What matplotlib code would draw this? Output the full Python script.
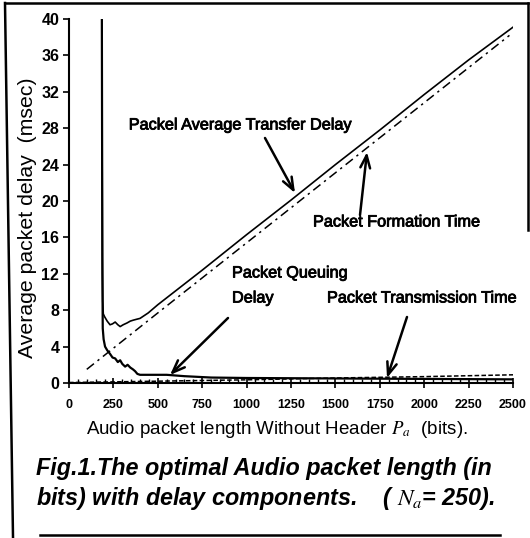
import matplotlib
matplotlib.use("Agg")
import matplotlib.pyplot as plt
from matplotlib.ticker import MultipleLocator
from matplotlib.lines import Line2D
import matplotlib.patheffects as pe

plt.rcParams['font.family'] = ['Liberation Sans', 'DejaVu Sans']
plt.rcParams['mathtext.fontset'] = 'stix'

# ---- data ----
P_total = [185, 186, 188, 190, 193, 200, 215, 231, 245, 260, 275, 288, 305, 327, 345,
           361, 380, 400, 446, 500, 750, 1000, 1250, 1500, 1750, 2000, 2250, 2500]
total_delay = [40, 30, 14, 9, 7.6, 7.3, 6.8, 6.4, 6.5, 6.7, 6.4, 6.2, 6.4, 6.6, 6.8,
               6.9, 7.0, 7.1, 7.7, 8.6, 12.4, 16.3, 20.1, 24.0, 27.8, 31.7, 35.5, 39.1]

P_queue = [185, 186, 188, 190, 195, 203, 215, 231, 245, 260, 275, 288, 300, 316, 330,
           345, 360, 372, 385, 400, 450, 550, 650, 800, 1000, 1500, 2000, 2500]
queue_delay = [40, 30, 12, 6, 4.8, 4.0, 3.6, 3.2, 2.8, 2.7, 2.3, 2.5, 2.1, 1.8, 2.0,
               1.7, 1.5, 1.3, 1.0, 0.9, 0.9, 0.9, 0.75, 0.6, 0.55, 0.5, 0.45, 0.4]

P_form = [100, 500, 1000, 1500, 2000, 2480]
formation_time = [1.5, 7.7, 15.4, 23.1, 30.8, 38.2]

P_trans = [0, 500, 1000, 1500, 2000, 2500]
transmission_time = [0.05, 0.2, 0.35, 0.55, 0.7, 0.9]

x_ticks = [0, 250, 500, 750, 1000, 1250, 1500, 1750, 2000, 2250, 2500]
y_ticks = [0, 4, 8, 12, 16, 20, 24, 28, 32, 36, 40]

W, H = 530, 538
fig = plt.figure(figsize=(W / 100, H / 100), dpi=100)
ax = fig.add_axes([69 / W, 1 - 383 / H, 444 / W, 364 / H])

ax.plot(P_total, total_delay, color='black', lw=1.2)
ax.plot(P_queue, queue_delay, color='black', lw=1.6)
ax.plot(P_form, formation_time, color='black', lw=1.1, dashes=(6, 3, 1.5, 3))
ax.plot(P_trans, transmission_time, color='black', lw=1.1, dashes=(3, 1.5))

ax.set_xlim(0, 2500)
ax.set_ylim(0, 40)
for s in ['top', 'right']:
    ax.spines[s].set_visible(False)
for s in ['left', 'bottom']:
    ax.spines[s].set_linewidth(1.5)

heavy = [pe.withStroke(linewidth=0.6, foreground='black')]

ax.set_xticks(x_ticks)
ax.set_xticklabels([str(v) for v in x_ticks], fontsize=9, fontweight='bold')
ax.xaxis.set_minor_locator(MultipleLocator(50))
ax.tick_params(axis='x', which='major', direction='inout', length=7, width=1.2, pad=8)
ax.tick_params(axis='x', which='minor', direction='in', length=3, width=1.0)
ax.set_yticks(y_ticks)
ax.set_yticklabels([str(v) for v in y_ticks], fontsize=11.5, fontweight='bold')
ax.tick_params(axis='y', which='major', direction='out', length=4, width=1.2, pad=3)


def dpt(px, py):
    return ((px - 69) / 444 * 2500, (383 - py) / 364 * 40)


arrow = dict(arrowstyle='->,head_length=0.9,head_width=0.35', lw=1.8, color='black',
             shrinkA=0, shrinkB=0)
tfs = 11.7
tkw = dict(fontsize=tfs, va='center', path_effects=heavy)
ax.annotate('', xy=dpt(295, 193), xytext=dpt(265, 138), arrowprops=arrow)
ax.text(*dpt(241, 125), 'Packel Average Transfer Delay', ha='center', **tkw)

ax.annotate('', xy=dpt(367, 152), xytext=dpt(360, 215), arrowprops=arrow)
ax.text(*dpt(313, 222), 'Packet Formation Time', ha='left', **tkw)

ax.annotate('', xy=dpt(170, 375), xytext=dpt(228, 318), arrowprops=arrow)
ax.text(*dpt(232, 273), 'Packet Queuing', ha='left', **tkw)
ax.text(*dpt(232, 298), 'Delay', ha='left', **tkw)

ax.annotate('', xy=dpt(387, 378), xytext=dpt(407, 317), arrowprops=arrow)
ax.text(*dpt(327, 298), 'Packet Transmission Time', ha='left', **tkw)

# axis labels
fig.text(28 / W, 1 - 218 / H, 'Average packet delay  (msec)', rotation=90,
         fontsize=15.3, ha='center', va='center')
fig.text(277 / W, 1 - 430 / H, r'Audio packet length Without Header $P_a$  (bits).',
         fontsize=13.5, ha='center', va='center')

# caption
fig.text(36 / W, 1 - 468 / H, 'Fig.1.The optimal Audio packet length (in',
         fontsize=16.8, fontweight='bold', fontstyle='italic', ha='left', va='center')
fig.text(36 / W, 1 - 498 / H, r'bits) with delay components.    ( $N_a$= 250).',
         fontsize=16.8, fontweight='bold', fontstyle='italic', ha='left', va='center')

# scanned frame
frame = dict(color='black', lw=1.8, transform=fig.transFigure)
fig.add_artist(Line2D([5 / W, 13 / W], [1 - 3 / H, 1 - 537 / H], **frame))
fig.add_artist(Line2D([5 / W, 528 / W], [1 - 3 / H, 1 - 3 / H], **frame))
fig.add_artist(Line2D([528 / W, 528 / W], [1 - 3 / H, 1 - 230 / H], **frame))
fig.add_artist(Line2D([40 / W, 500 / W], [1 - 535 / H, 1 - 535 / H], **frame))

fig.savefig('out.png', dpi=100)
